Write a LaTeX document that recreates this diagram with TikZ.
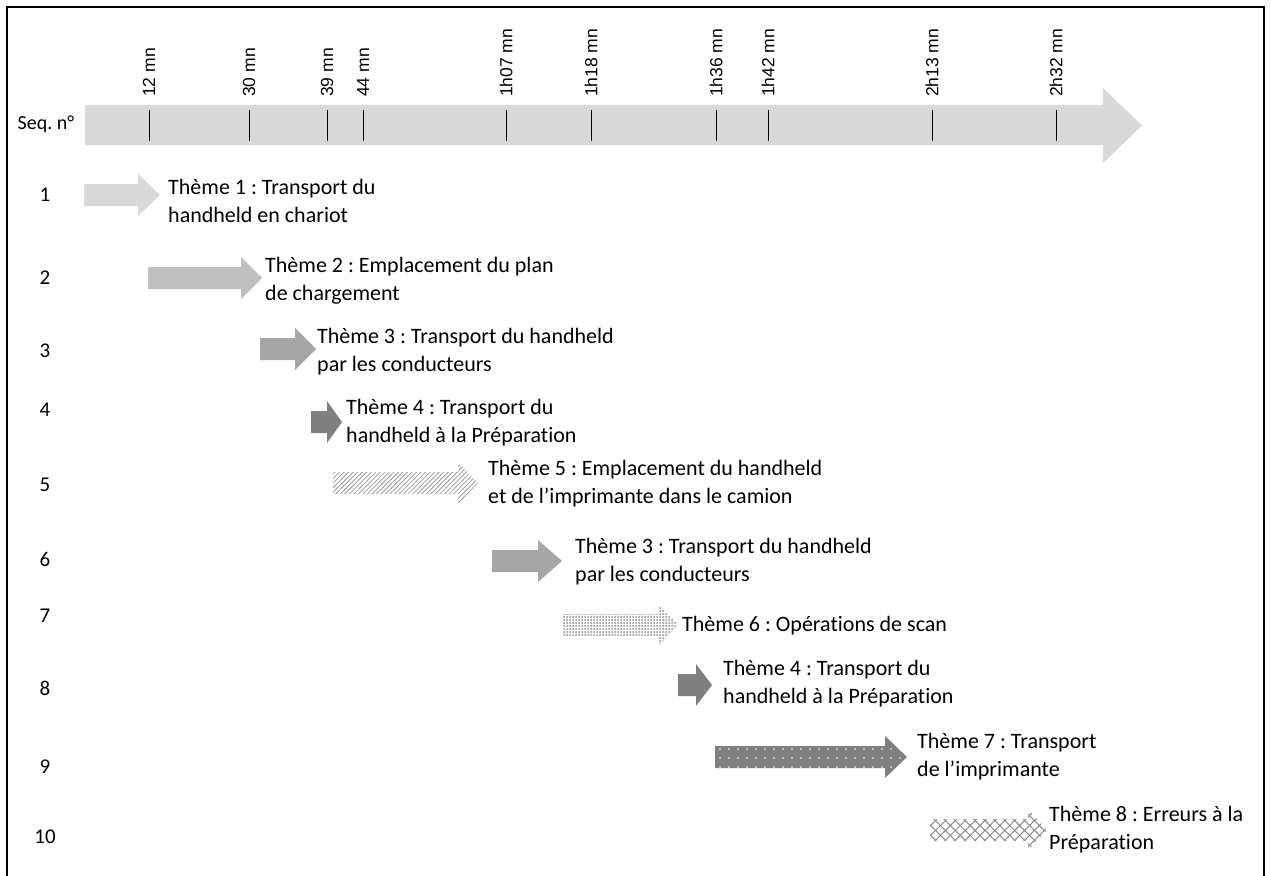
\documentclass[tikz,border=0pt]{standalone}
\usepackage{fontspec}
\setmainfont{Carlito}[Ligatures=NoCommon]
\newfontfamily\tickfont{Liberation Sans}
\usetikzlibrary{patterns.meta}
\frenchspacing
\definecolor{axisgray}{HTML}{D9D9D9}
\definecolor{lightgray1}{HTML}{D9D9D9}
\definecolor{midgray}{HTML}{BFBFBF}
\definecolor{gray3}{HTML}{A6A6A6}
\definecolor{darkgray4}{HTML}{7F7F7F}
\newcommand{\themearrow}[5]{%
  \path[#1] (#2,#5-11) -- (#3,#5-11) -- (#3,#5-21) -- (#4,#5) -- (#3,#5+21) -- (#3,#5+11) -- (#2,#5+11) -- cycle;}
\begin{document}
\begin{tikzpicture}[x=1pt,y=-1pt,
  ticklbl/.style={font=\tickfont\fontsize{17.5}{20}\selectfont, rotate=90, anchor=west, inner sep=0pt},
  tickline/.style={draw=black, line width=1pt},
  seqnum/.style={font=\fontsize{21}{26}\selectfont, inner sep=0pt},
  theme/.style={font=\fontsize{22}{28}\selectfont, align=left, anchor=west, inner sep=0pt},
  a1/.style={fill=lightgray1},
  a2/.style={fill=midgray},
  a3/.style={fill=gray3},
  a4/.style={fill=darkgray4},
  a5/.style={pattern={Lines[angle=45,distance=3.2pt,line width=0.8pt]}, pattern color=black!40},
  a7/.style={pattern={Dots[distance=3pt,radius=1pt]}, pattern color=black!45},
  a9/.style={preaction={fill=darkgray4}, pattern={Dots[distance=9pt,radius=0.9pt]}, pattern color=white},
  a10/.style={preaction={pattern={Lines[angle=45,distance=7pt,line width=1pt]}, pattern color=black!45},
              pattern={Lines[angle=-45,distance=7pt,line width=1pt]}, pattern color=black!45}
]
\useasboundingbox (0,0) rectangle (1271,875);
\fill[white] (0,0) rectangle (1271,875);
% frame
\draw[line width=2pt] (7,890) -- (7,7) -- (1264,7) -- (1264,890);
% main axis arrow
\path[fill=axisgray] (85,105) -- (1103,105) -- (1103,88) -- (1142,125.5) -- (1103,163) -- (1103,145) -- (85,145) -- cycle;
\node[seqnum, font=\fontsize{20}{24}\selectfont] (seq) at (46,124) {Seq. n°};
% ticks and labels
\foreach \x/\t [count=\i] in {149/12 mn, 249/30 mn, 327/39 mn, 363/44 mn, 506/1h07 mn, 591/1h18 mn, 716/1h36 mn, 768/1h42 mn, 932/2h13 mn, 1056/2h32 mn}{
  \draw[tickline] (\x,110) -- (\x,141);
  \node[ticklbl] (l\i) at (\x,97) {\t};
}
% sequence numbers
\foreach \y [count=\i] in {195,278,351,410,485,559,616,688,767,837}{
  \node[seqnum] (n\i) at (45,\y) {\i};
}
% theme arrows
\themearrow{a1}{84}{138}{160}{195}
\themearrow{a2}{148}{241}{262}{278}
\themearrow{a3}{260}{295}{316}{349}
\themearrow{a4}{311}{327}{342}{422}
\themearrow{a5}{333}{458}{478}{483}
\themearrow{a3}{492}{538}{562}{561}
\themearrow{a7}{563}{658}{678}{625}
\themearrow{a4}{678}{696}{712}{685}
\themearrow{a9}{715}{885}{907}{757}
\themearrow{a10}{930}{1028}{1047}{830}
% theme texts
\node[theme] (t1) at (168,201) {Thème 1 : Transport du\\handheld en chariot};
\node[theme] (t2) at (265,281) {Thème 2 : Emplacement du plan\\de chargement};
\node[theme] (t3) at (317,352) {Thème 3 : Transport du handheld\\par les conducteurs};
\node[theme] (t4) at (346,423) {Thème 4 : Transport du\\handheld à la Préparation};
\node[theme] (t5) at (488,484) {Thème 5 : Emplacement du handheld\\et de l’imprimante dans le camion};
\node[theme] (t6) at (575,562) {Thème 3 : Transport du handheld\\par les conducteurs};
\node[theme] (t7) at (682,626) {Thème 6 : Opérations de scan};
\node[theme] (t8) at (723,684) {Thème 4 : Transport du\\handheld à la Préparation};
\node[theme] (t9) at (917,757) {Thème 7 : Transport\\de l’imprimante};
\node[theme] (t10) at (1049,830) {Thème 8 : Erreurs à la\\Préparation};
\end{tikzpicture}
\end{document}
